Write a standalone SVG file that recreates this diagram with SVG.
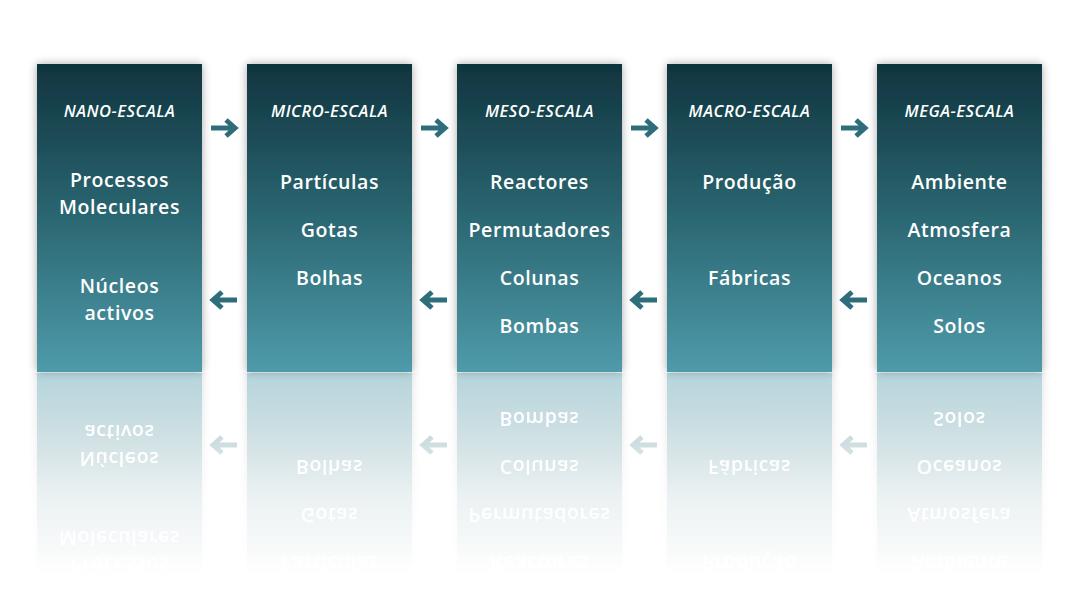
<svg xmlns="http://www.w3.org/2000/svg" xmlns:xlink="http://www.w3.org/1999/xlink" width="1080" height="598" viewBox="0 0 1080 598">
<style>
.box{fill:url(#boxg);filter:url(#sh)}
.t{font-family:"Open Sans","Noto Sans",sans-serif;fill:#ffffff;text-anchor:middle}
.h{font-size:16.5px;font-weight:600;font-style:italic;letter-spacing:0.5px}
.b{font-size:19.5px;font-weight:600;letter-spacing:0.6px}
.arr{fill:none;stroke:#2e6e7b;stroke-width:5;stroke-linejoin:miter}
</style>
<defs>
<linearGradient id="boxg" x1="0" y1="0" x2="0" y2="1">
<stop offset="0" stop-color="#10343e"/>
<stop offset="0.5" stop-color="#2b6772"/>
<stop offset="1" stop-color="#4f9bab"/>
</linearGradient>
<filter id="sh" x="-20%" y="-10%" width="140%" height="120%">
<feGaussianBlur in="SourceAlpha" stdDeviation="5"/>
<feComponentTransfer><feFuncA type="linear" slope="0.35"/></feComponentTransfer>
<feMerge><feMergeNode/><feMergeNode in="SourceGraphic"/></feMerge>
</filter>
<linearGradient id="fadeg" gradientUnits="userSpaceOnUse" x1="0" y1="372" x2="0" y2="575">
<stop offset="0" stop-color="#fff" stop-opacity="0.42"/>
<stop offset="0.6" stop-color="#fff" stop-opacity="0.1"/>
<stop offset="1" stop-color="#fff" stop-opacity="0"/>
</linearGradient>
<mask id="fade" maskUnits="userSpaceOnUse" x="0" y="372" width="1080" height="226">
<rect x="0" y="373" width="1080" height="202" fill="url(#fadeg)"/>
</mask>
<path id="ar" d="M0 0 H24 M15 -8 L24 0 L15 8"/>
<path id="al" d="M0 0 H-24 M-15 -8 L-24 0 L-15 8"/>
</defs>
<rect width="1080" height="598" fill="#ffffff"/>
<g id="content">
<g id="nano">
<rect class="box" x="37" y="64" width="165" height="308"/>
<text class="t h" x="119.5" y="117">NANO-ESCALA</text>
<text class="t b" x="119.5" y="187">Processos</text>
<text class="t b" x="119.5" y="214">Moleculares</text>
<text class="t b" x="119.5" y="293">Núcleos</text>
<text class="t b" x="119.5" y="320">activos</text>
</g>
<g id="micro">
<rect class="box" x="247" y="64" width="165" height="308"/>
<text class="t h" x="329.5" y="117">MICRO-ESCALA</text>
<text class="t b" x="329.5" y="189">Partículas</text>
<text class="t b" x="329.5" y="237">Gotas</text>
<text class="t b" x="329.5" y="285">Bolhas</text>
</g>
<g id="meso">
<rect class="box" x="457" y="64" width="165" height="308"/>
<text class="t h" x="539.5" y="117">MESO-ESCALA</text>
<text class="t b" x="539.5" y="189">Reactores</text>
<text class="t b" x="539.5" y="237">Permutadores</text>
<text class="t b" x="539.5" y="285">Colunas</text>
<text class="t b" x="539.5" y="333">Bombas</text>
</g>
<g id="macro">
<rect class="box" x="667" y="64" width="165" height="308"/>
<text class="t h" x="749.5" y="117">MACRO-ESCALA</text>
<text class="t b" x="749.5" y="189">Produção</text>
<text class="t b" x="749.5" y="285">Fábricas</text>
</g>
<g id="mega">
<rect class="box" x="877" y="64" width="165" height="308"/>
<text class="t h" x="959.5" y="117">MEGA-ESCALA</text>
<text class="t b" x="959.5" y="189">Ambiente</text>
<text class="t b" x="959.5" y="237">Atmosfera</text>
<text class="t b" x="959.5" y="285">Oceanos</text>
<text class="t b" x="959.5" y="333">Solos</text>
</g>
<g id="connectors" class="arr">
<use xlink:href="#ar" x="211" y="128"/>
<use xlink:href="#ar" x="421" y="128"/>
<use xlink:href="#ar" x="631" y="128"/>
<use xlink:href="#ar" x="841" y="128"/>
<use xlink:href="#al" x="237" y="300"/>
<use xlink:href="#al" x="447" y="300"/>
<use xlink:href="#al" x="657" y="300"/>
<use xlink:href="#al" x="867" y="300"/>
</g>
</g>
<g id="reflection" mask="url(#fade)">
<use xlink:href="#content" transform="translate(0,745) scale(1,-1)"/>
</g>
</svg>
